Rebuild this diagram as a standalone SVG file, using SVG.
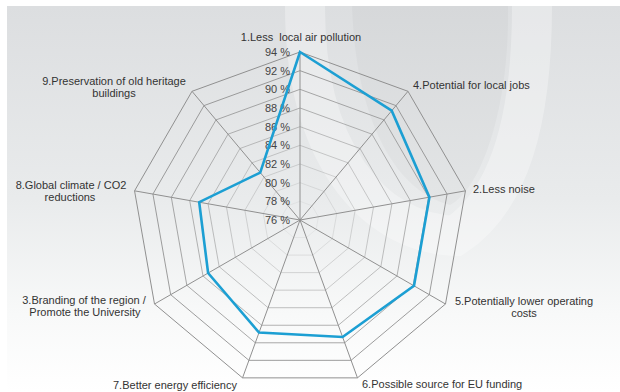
<svg xmlns="http://www.w3.org/2000/svg" xmlns:xlink="http://www.w3.org/1999/xlink" width="620" height="392" viewBox="0 0 620 392">
  <defs>
    <linearGradient id="bg" x1="0" y1="0" x2="0" y2="1">
      <stop offset="0" stop-color="#dcdee0"/>
      <stop offset="0.5" stop-color="#e9ebec"/>
      <stop offset="0.8" stop-color="#f8f9f9"/>
      <stop offset="1" stop-color="#ffffff"/>
    </linearGradient>
    <polygon id="ring" points="0,-168 107.99,-128.69 165.45,-29.17 145.49,84 57.46,157.87 -57.46,157.87 -145.49,84 -165.45,-29.17 -107.99,-128.69"/>
    <style>
      .grid { fill: none; stroke: #909090; stroke-width: 1; vector-effect: non-scaling-stroke; }
      .spoke { stroke: #909090; stroke-width: 1; }
      .lbl { font-family: "Liberation Sans", Arial, sans-serif; font-size: 11px; fill: #333333; }
      .pct { font-family: "Liberation Sans", Arial, sans-serif; font-size: 11px; fill: #444444; text-anchor: end; dominant-baseline: central; }
      .mid { text-anchor: middle; }
      .data { fill: none; stroke: #1c9fd3; stroke-width: 2.6; stroke-linejoin: miter; }
    </style>
  </defs>

  <rect x="0" y="0" width="620" height="392" fill="#ffffff"/>
  <rect x="7" y="6" width="613" height="386" fill="url(#bg)"/>
  <path d="M 305,6 C 305,150 370,232 455,236 C 510,200 532,120 532,6" fill="none" stroke="#ffffff" stroke-width="40" opacity="0.3"/>
  <path d="M 352,6 L 508,6 C 510,110 480,190 450,205 C 390,190 355,110 352,6 Z" fill="#000000" opacity="0.025"/>

  <g id="grid" transform="translate(300,220)">
    <use xlink:href="#ring" class="grid" transform="scale(0.1111)"/>
    <use xlink:href="#ring" class="grid" transform="scale(0.2222)"/>
    <use xlink:href="#ring" class="grid" transform="scale(0.3333)"/>
    <use xlink:href="#ring" class="grid" transform="scale(0.4444)"/>
    <use xlink:href="#ring" class="grid" transform="scale(0.5556)"/>
    <use xlink:href="#ring" class="grid" transform="scale(0.6667)"/>
    <use xlink:href="#ring" class="grid" transform="scale(0.7778)"/>
    <use xlink:href="#ring" class="grid" transform="scale(0.8889)"/>
    <use xlink:href="#ring" class="grid"/>
    <g class="spoke">
      <line x1="0" y1="0" x2="0" y2="-168"/>
      <line x1="0" y1="0" x2="107.99" y2="-128.69"/>
      <line x1="0" y1="0" x2="165.45" y2="-29.17"/>
      <line x1="0" y1="0" x2="145.49" y2="84"/>
      <line x1="0" y1="0" x2="57.46" y2="157.87"/>
      <line x1="0" y1="0" x2="-57.46" y2="157.87"/>
      <line x1="0" y1="0" x2="-145.49" y2="84"/>
      <line x1="0" y1="0" x2="-165.45" y2="-29.17"/>
      <line x1="0" y1="0" x2="-107.99" y2="-128.69"/>
    </g>
  </g>

  <g id="scale">
    <text class="pct" x="290" y="52">94 %</text>
    <text class="pct" x="290" y="70.7">92 %</text>
    <text class="pct" x="290" y="89.3">90 %</text>
    <text class="pct" x="290" y="108">88 %</text>
    <text class="pct" x="290" y="126.7">86 %</text>
    <text class="pct" x="290" y="145.3">84 %</text>
    <text class="pct" x="290" y="164">82 %</text>
    <text class="pct" x="290" y="182.7">80 %</text>
    <text class="pct" x="290" y="201.3">78 %</text>
    <text class="pct" x="290" y="220">76 %</text>
  </g>

  <g id="connectors">
    <polygon class="data" points="300,52 391.7,110.7 429.4,197.2 414,285.8 342.6,337 259,332.6 208.1,273 199.2,202.2 260.2,172.6"/>
  </g>

  <g id="n1"><text class="lbl mid" x="301" y="41" xml:space="preserve">1.Less  local air pollution</text></g>
  <g id="n4"><text class="lbl" x="413" y="89">4.Potential for local jobs</text></g>
  <g id="n2"><text class="lbl" x="473" y="193">2.Less noise</text></g>
  <g id="n5"><text class="lbl mid" x="524" y="305">5.Potentially lower operating<tspan x="524" y="317">costs</tspan></text></g>
  <g id="n6"><text class="lbl" x="362" y="388">6.Possible source for EU funding</text></g>
  <g id="n7"><text class="lbl" x="113" y="389">7.Better energy efficiency</text></g>
  <g id="n3"><text class="lbl mid" x="84" y="304">3.Branding of the region /<tspan x="85" y="316">Promote the University</tspan></text></g>
  <g id="n8"><text class="lbl mid" x="71" y="189">8.Global climate / CO2<tspan x="70" y="201">reductions</tspan></text></g>
  <g id="n9"><text class="lbl mid" x="114" y="85">9.Preservation of old heritage<tspan x="114" y="97">buildings</tspan></text></g>
</svg>
